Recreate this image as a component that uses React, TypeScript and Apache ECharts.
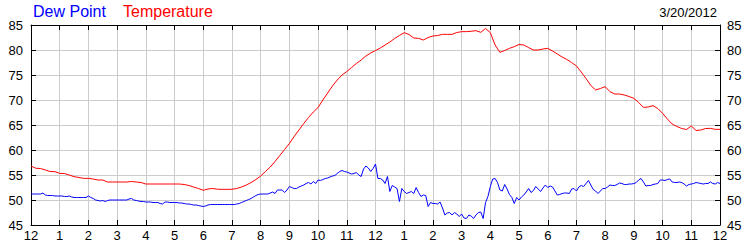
import React, { useEffect, useRef } from 'react';
import * as echarts from 'echarts';

const hourLabels = ['12', '1', '2', '3', '4', '5', '6', '7', '8', '9', '10', '11', '12', '1', '2', '3', '4', '5', '6', '7', '8', '9', '10', '11', '12'];
const seriesNames = ['Dew Point', 'Temperature'];
const seriesColors = ['#0000ff', '#ff0000'];
const dateLabel = '3/20/2012';
const tempStepMinutes = 10;
const dewStepMinutes = 5;

const temperature = [
  56.8, 56.35, 56.3, 56.0, 55.7, 55.67,
  55.33, 55.3, 55.0, 54.67, 54.5, 54.33,
  54.33, 54.2, 54.0, 54.0, 53.6, 53.6,
  53.6, 53.6, 53.6, 53.7, 53.6, 53.5,
  53.2, 53.2, 53.2, 53.2, 53.2, 53.2,
  53.2, 53.2, 53.1, 52.9, 52.6, 52.3,
  51.95, 52.2, 52.3, 52.15, 52.13, 52.13,
  52.15, 52.3, 52.6, 53.0, 53.5, 54.1,
  54.8, 55.7, 56.6, 57.7, 58.9, 60.1,
  61.3, 62.7, 64.0, 65.3, 66.5, 67.6,
  68.5, 70.0, 71.4, 72.8, 74.0, 75.0,
  75.7, 76.5, 77.3, 78.0, 78.8, 79.4,
  79.9, 80.4, 81.0, 81.6, 82.3, 82.9,
  83.47, 83.1, 82.4, 82.33, 82.0, 82.5,
  82.8, 82.9, 83.13, 83.13, 83.13, 83.5,
  83.67, 83.67, 83.75, 83.87, 83.53, 84.3,
  83.47, 81.0, 79.53, 79.9, 80.33, 80.67,
  81.1, 81.0, 80.5, 80.0, 80.0, 80.2,
  80.33, 79.8, 79.2, 78.6, 78.1, 77.5,
  76.8, 75.6, 74.3, 72.9, 72.0, 72.3,
  72.67, 71.67, 71.2, 71.2, 71.0, 70.7,
  70.33, 69.5, 68.53, 68.6, 68.87, 68.3,
  67.33, 66.2, 65.2, 64.7, 64.3, 64.1,
  64.8, 63.9, 64.0, 64.3, 64.33, 64.13,
  64.13,
];

const dewPoint = [
  51.2, 51.2, 51.2, 51.2, 51.2, 51.4, 51.0, 50.9, 50.9, 50.9, 50.8, 50.8,
  50.8, 50.8, 50.7, 50.7, 50.8, 50.6, 50.5, 50.5, 50.5, 50.5, 50.5, 50.5,
  50.8, 50.5, 50.3, 50.0, 49.9, 49.8, 49.9, 49.7, 49.9, 50.0, 50.0, 50.0,
  50.0, 50.0, 50.0, 50.0, 50.0, 50.2, 50.3, 50.0, 49.9, 49.8, 49.7, 49.7,
  49.6, 49.6, 49.6, 49.5, 49.5, 49.5, 49.3, 49.2, 49.6, 49.6, 49.5, 49.5,
  49.5, 49.5, 49.4, 49.4, 49.3, 49.2, 49.2, 49.1, 49.0, 49.0, 48.9, 48.8,
  48.7, 48.8, 49.0, 49.1, 49.1, 49.1, 49.1, 49.1, 49.1, 49.1, 49.1, 49.1,
  49.1, 49.1, 49.2, 49.3, 49.5, 49.7, 49.9, 50.1, 50.3, 50.6, 50.9, 51.1,
  51.2, 51.2, 51.2, 51.2, 51.4, 51.6, 51.3, 52.0, 52.0, 52.0, 51.5, 52.0,
  52.7, 52.5, 52.3, 52.3, 52.6, 52.8, 53.0, 53.3, 53.5, 53.2, 53.7, 53.3,
  54.0, 53.9, 54.1, 54.3, 54.4, 54.6, 54.8, 54.9, 55.3, 55.7, 55.9, 55.7,
  55.6, 55.4, 55.2, 55.3, 55.5, 55.0, 54.7, 56.2, 56.8, 56.4, 55.7, 56.3,
  57.2, 54.3, 54.3, 54.0, 53.3, 54.7, 51.7, 52.9, 52.6, 52.3, 49.7, 52.3,
  51.7, 51.3, 51.5, 51.7, 51.3, 52.5, 51.5, 50.7, 51.0, 50.9, 48.7, 49.5,
  49.3, 49.3, 49.2, 49.6, 48.4, 47.0, 47.4, 47.5, 47.0, 47.5, 47.2, 46.7,
  47.2, 46.4, 46.3, 47.0, 46.8, 46.3, 47.0, 47.5, 47.6, 46.3, 49.5, 50.7,
  52.7, 54.2, 54.3, 53.5, 52.0, 51.8, 53.1, 52.2, 51.1, 50.5, 49.3, 50.5,
  50.0, 50.6, 51.0, 51.6, 52.3, 51.5, 51.9, 52.7, 52.2, 51.7, 52.4, 53.0,
  52.5, 52.8, 52.6, 51.8, 51.0, 51.1, 51.3, 51.4, 51.4, 51.3, 52.2, 52.3,
  51.8, 52.6, 52.9, 52.7, 53.3, 53.9, 53.0, 52.1, 51.8, 51.3, 51.8, 52.3,
  52.3, 52.6, 53.0, 52.9, 52.9, 53.1, 53.4, 53.3, 53.1, 53.1, 53.2, 53.2,
  53.3, 53.5, 54.0, 54.3, 53.6, 52.8, 52.9, 52.9, 53.1, 53.2, 53.3, 54.0,
  54.0, 53.9, 54.1, 54.2, 53.6, 53.5, 53.5, 53.6, 53.5, 53.2, 52.8, 53.1,
  53.2, 53.3, 53.5, 53.4, 53.3, 53.2, 53.3, 53.3, 53.6, 53.3, 53.2, 53.5,
  53.3,
];

const FONT = '"Liberation Sans", Arial, sans-serif';

export default function App() {
  const ref = useRef<HTMLDivElement>(null);
  useEffect(() => {
    if (!ref.current) return;
    const chart = echarts.init(ref.current, undefined, { renderer: 'svg' });
    const tempData = temperature.map((v, i) => [(i * tempStepMinutes) / 60, v]);
    const dewData = dewPoint.map((v, i) => [(i * dewStepMinutes) / 60, v]);
    const xBase = {
      type: 'value' as const,
      min: 0,
      max: 24,
      interval: 1,
      axisLine: { show: true, onZero: false, lineStyle: { color: '#000', width: 1 } },
      axisTick: { show: true, inside: true, length: 5, lineStyle: { color: '#000' } },
    };
    const yBase = {
      type: 'value' as const,
      min: 45,
      max: 85,
      interval: 5,
      axisLine: { show: true, onZero: false, lineStyle: { color: '#000', width: 1 } },
      axisTick: { show: true, inside: true, length: 5, lineStyle: { color: '#000' } },
    };
    chart.setOption({
      animation: false,
      backgroundColor: '#fff',
      grid: { left: 31, right: 30, top: 25, bottom: 25, containLabel: false },
      xAxis: [
        {
          ...xBase,
          position: 'bottom',
          axisLabel: {
            color: '#000',
            fontSize: 13,
            fontFamily: FONT,
            margin: 4,
            formatter: (v: number) => hourLabels[Math.round(v)] ?? '',
          },
          splitLine: { show: true, lineStyle: { color: '#cccccc', width: 1 } },
        },
        {
          ...xBase,
          position: 'top',
          axisLabel: { show: false },
          splitLine: { show: false },
        },
      ],
      yAxis: [
        {
          ...yBase,
          position: 'left',
          axisLabel: { color: '#000', fontSize: 13, fontFamily: FONT, margin: 8 },
          splitLine: { show: true, lineStyle: { color: '#cccccc', width: 1 } },
        },
        {
          ...yBase,
          position: 'right',
          axisLabel: { color: '#000', fontSize: 13, fontFamily: FONT, margin: 7 },
          splitLine: { show: false },
        },
      ],
      graphic: [
        {
          type: 'text',
          x: 33,
          y: 11.5,
          style: { text: seriesNames[0], fill: seriesColors[0], fontSize: 16, fontFamily: FONT, align: 'left', verticalAlign: 'middle' },
        },
        {
          type: 'text',
          x: 123,
          y: 11.5,
          style: { text: seriesNames[1], fill: seriesColors[1], fontSize: 16, fontFamily: FONT, align: 'left', verticalAlign: 'middle' },
        },
        {
          type: 'text',
          x: 717,
          y: 12.5,
          style: { text: dateLabel, fill: '#000', fontSize: 13, fontFamily: FONT, align: 'right', verticalAlign: 'middle' },
        },
      ],
      series: [
        {
          name: seriesNames[0],
          type: 'line',
          data: dewData,
          showSymbol: false,
          lineStyle: { color: seriesColors[0], width: 1 },
          itemStyle: { color: seriesColors[0] },
          z: 3,
        },
        {
          name: seriesNames[1],
          type: 'line',
          data: tempData,
          showSymbol: false,
          lineStyle: { color: seriesColors[1], width: 1 },
          itemStyle: { color: seriesColors[1] },
          z: 3,
        },
      ],
    });
    return () => chart.dispose();
  }, []);
  return <div ref={ref} style={{ position: 'absolute', left: 0, top: 0, width: 750, height: 250 }} />;
}
